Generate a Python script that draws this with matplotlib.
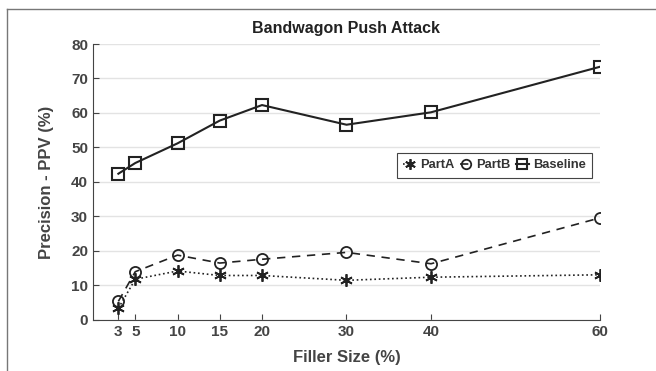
import matplotlib.pyplot as plt
from matplotlib.lines import Line2D

filler = [3, 5, 10, 15, 20, 30, 40, 60]
part_a = [3.4, 11.8, 14.2, 12.9, 12.9, 11.5, 12.4, 13.1]
part_b = [5.4, 14.0, 18.8, 16.5, 17.6, 19.6, 16.3, 29.6]
baseline = [42.4, 45.5, 51.2, 57.8, 62.3, 56.6, 60.2, 73.4]

plt.rcParams["font.family"] = ["Liberation Sans", "DejaVu Sans"]
plt.rcParams["font.weight"] = "bold"

fig = plt.figure(figsize=(6.56, 3.71), dpi=100)
ax = fig.add_axes([0.1418, 0.1375, 0.7728, 0.7439])

# partial frame around the figure
fig.add_artist(Line2D([7 / 656, 7 / 656], [0, 1 - 9 / 371], transform=fig.transFigure, color="#777777", lw=1))
fig.add_artist(Line2D([7 / 656, 1], [1 - 9 / 371, 1 - 9 / 371], transform=fig.transFigure, color="#777777", lw=1))

ax.plot(filler, part_a, linestyle=":", color="#222222", lw=1.2, marker=(6, 2, 0), ms=9,
        mec="#222222", mew=1.3, label="PartA")
ax.plot(filler, part_b, linestyle=(0, (5, 4)), color="#222222", lw=1.2, marker="o", ms=8,
        mfc="none", mec="#222222", mew=1.3, label="PartB")
ax.plot(filler, baseline, linestyle="-", color="#222222", lw=1.5, marker="s", ms=9,
        mfc="none", mec="#222222", mew=1.5, label="Baseline")

ax.set_xlim(0, 60)
ax.set_ylim(0, 80)
ax.set_xticks(filler)
ax.set_yticks(range(0, 81, 10))
ax.grid(axis="y", color="#e3e3e3", lw=1)
ax.set_axisbelow(True)
for s in ["top", "right"]:
    ax.spines[s].set_visible(False)
for s in ["left", "bottom"]:
    ax.spines[s].set_color("#444444")
ax.tick_params(direction="in", length=4, color="#444444", labelcolor="#444444", labelsize=11)

ax.set_title("Bandwagon Push Attack", fontsize=11.5, fontweight="bold", color="#222222", pad=8)
ax.set_xlabel("Filler Size (%)", fontsize=12, fontweight="bold", color="#444444", labelpad=8)
ax.set_ylabel("Precision - PPV (%)", fontsize=12, fontweight="bold", color="#444444", labelpad=12)

leg = ax.legend(ncol=3, loc="center right", bbox_to_anchor=(0.997, 0.56), fontsize=9.3,
                handlelength=1.0, handletextpad=0.3, columnspacing=0.4, borderpad=0.5,
                fancybox=False, framealpha=1, markerscale=0.85)
leg.get_frame().set_edgecolor("#444444")
leg.get_frame().set_linewidth(0.8)
for t in leg.get_texts():
    t.set_color("#333333")

fig.savefig("out.png", dpi=100)
